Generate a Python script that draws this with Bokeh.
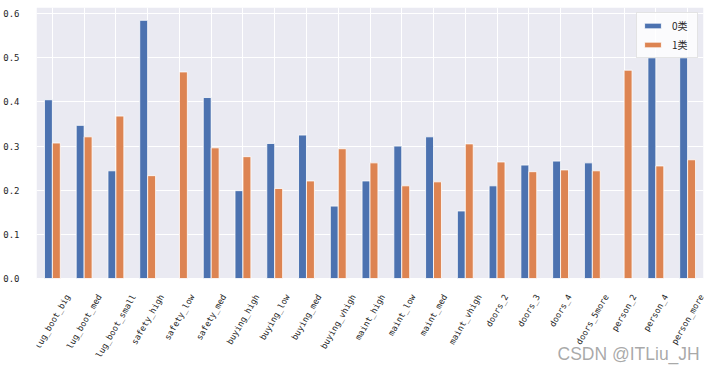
import math
from bokeh.plotting import figure
from bokeh.models import (ColumnDataSource, Range1d, FixedTicker, LabelSet, Label,
                          Legend, LegendItem, NumeralTickFormatter, BoxAnnotation)
from bokeh.core.properties import value
from bokeh.transform import dodge
from bokeh.embed import file_html
from bokeh.resources import INLINE

categories = ["lug_boot_big", "lug_boot_med", "lug_boot_small", "safety_high", "safety_low",
              "safety_med", "buying_high", "buying_low", "buying_med", "buying_vhigh",
              "maint_high", "maint_low", "maint_med", "maint_vhigh", "doors_2", "doors_3",
              "doors_4", "doors_5more", "person_2", "person_4", "person_more"]
class0 = [0.405, 0.347, 0.244, 0.585, 0.0, 0.410, 0.199, 0.306, 0.325, 0.164,
          0.221, 0.300, 0.321, 0.153, 0.210, 0.257, 0.266, 0.262, 0.0, 0.500, 0.500]
class1 = [0.307, 0.321, 0.368, 0.233, 0.468, 0.296, 0.276, 0.204, 0.221, 0.294,
          0.262, 0.210, 0.219, 0.305, 0.264, 0.242, 0.246, 0.244, 0.472, 0.255, 0.269]
series_names = ["0类", "1类"]
yticks = [0.0, 0.1, 0.2, 0.3, 0.4, 0.5, 0.6]

idx = list(range(len(categories)))
YMAX = 0.614
W, H = 712, 366
TOP = 7                # white strip above the grey area
PLOT_H = 271           # pixel height of the grey plotting area
BOTTOM = H - TOP - PLOT_H   # room for rotated labels (inside the frame)
UNIT = YMAX / PLOT_H   # data units per pixel
YMIN = -BOTTOM * UNIT
TEXT = "#262626"
FS = 8.5               # px, tick label font size
CW = 0.602 * FS        # monospace char width
MONO = "DejaVu Sans Mono"

src = ColumnDataSource(dict(x=idx, c0=class0, c1=class1))

p = figure(width=W, height=H, output_backend="svg", toolbar_location=None,
           x_range=Range1d(-0.5, len(categories) - 0.5), y_range=Range1d(YMIN, YMAX),
           min_border_left=34, min_border_right=9, min_border_top=TOP, min_border_bottom=0)
p.background_fill_color = "white"
p.border_fill_color = "white"
p.outline_line_color = None

bg = BoxAnnotation(bottom=0, top=YMAX, fill_color="#EAEAF2", fill_alpha=1.0,
                   line_color=None, level="image")
p.add_layout(bg)

r0 = p.vbar(x=dodge("x", -0.125), top="c0", width=0.25, source=src,
            fill_color="#4C72B0", line_color="white", line_width=0.8)
r1 = p.vbar(x=dodge("x", 0.125), top="c1", width=0.25, source=src,
            fill_color="#DD8452", line_color="white", line_width=0.8)

# grids restricted to the grey area
p.xgrid.ticker = FixedTicker(ticks=idx)
p.ygrid.ticker = FixedTicker(ticks=yticks)
p.xgrid.bounds = (0, YMAX)
for g in (p.xgrid, p.ygrid):
    g.grid_line_color = "white"
    g.grid_line_width = 1
    g.level = "underlay"

# y axis
p.yaxis.ticker = FixedTicker(ticks=yticks)
p.yaxis.formatter = NumeralTickFormatter(format="0.0")
p.yaxis.axis_line_color = None
p.yaxis.major_tick_line_color = None
p.yaxis.minor_tick_line_color = None
p.yaxis.major_label_standoff = 11
p.yaxis.major_label_text_font = MONO
p.yaxis.major_label_text_font_size = "9px"
p.yaxis.major_label_text_color = TEXT

# x axis hidden; category labels drawn rotated and centred like matplotlib
p.xaxis.visible = False
ang = math.radians(60)
pad = 14
lab_y = []
for c in categories:
    L = len(c) * CW
    hgt = L * math.sin(ang) + 10 * math.cos(ang)
    lab_y.append(-(pad + hgt / 2) * UNIT)
lab_src = ColumnDataSource(dict(x=idx, y=lab_y, t=categories))
labels = LabelSet(x="x", y="y", text="t", source=lab_src, angle=60, angle_units="deg",
                  text_align="center", text_baseline="middle",
                  text_font=value(MONO), text_font_size=value(f"{FS}px"),
                  text_color=TEXT)
p.add_layout(labels)

legend = Legend(items=[LegendItem(label=series_names[0], renderers=[r0]),
                       LegendItem(label=series_names[1], renderers=[r1])],
                location="top_right")
legend.label_text_font = "Noto Sans CJK SC"
legend.label_text_font_size = "10px"
legend.label_text_line_height = 1.0
legend.label_text_color = TEXT
legend.glyph_width = 21
legend.glyph_height = 7
legend.label_height = 10
legend.label_standoff = 9
legend.spacing = 4
legend.padding = 5
legend.margin = 5
legend.border_line_color = "#cccccc"
legend.border_line_width = 1
legend.background_fill_color = "white"
legend.background_fill_alpha = 0.8
p.add_layout(legend)

wm = Label(x=521, y=12.5, x_units="screen", y_units="screen", text="CSDN @ITLiu_JH",
           text_font="Liberation Sans", text_font_size="17.5px", text_color="#9a9a9a",
           text_baseline="alphabetic", text_alpha=0.85)
p.add_layout(wm)

open("out.html", "w").write(file_html(p, INLINE))
